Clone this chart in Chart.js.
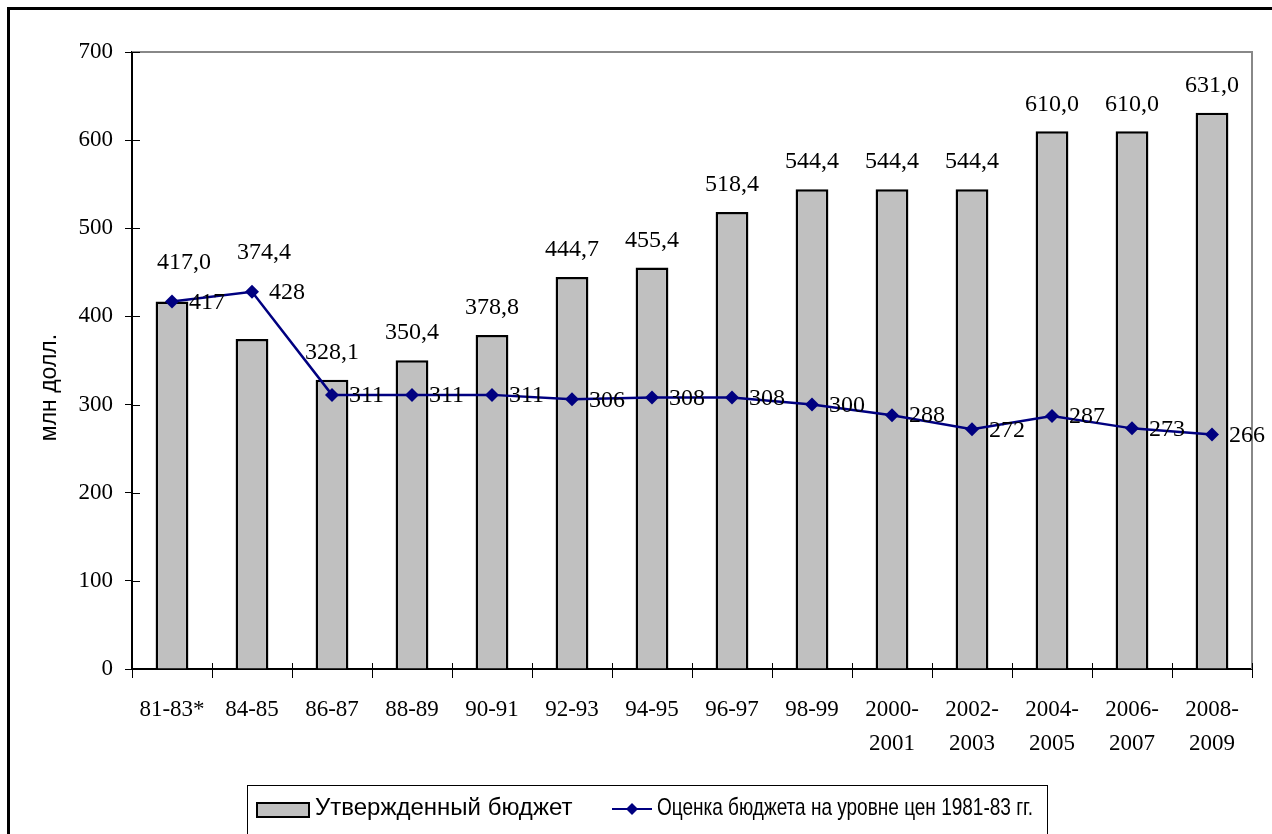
<!DOCTYPE html>
<html>
<head>
<meta charset="utf-8">
<script src="https://cdn.jsdelivr.net/npm/chart.js@4"></script>
<style>
  body { margin: 0; background: #fff; overflow: hidden; }
  canvas { display: block; }
</style>
</head>
<body>
<canvas id="budgetChart" width="1272" height="834"></canvas>
<script>
// categories (two-line labels for the later biennia)
const periods = [
  "81-83*", "84-85", "86-87", "88-89", "90-91", "92-93", "94-95",
  "96-97", "98-99", ["2000-", "2001"], ["2002-", "2003"],
  ["2004-", "2005"], ["2006-", "2007"], ["2008-", "2009"],
];
// approved budget, mln $
const approved = [417.0, 374.4, 328.1, 350.4, 378.8, 444.7, 455.4, 518.4, 544.4, 544.4, 544.4, 610.0, 610.0, 631.0];
// budget at 1981-83 prices
const realBudget = [417, 428, 311, 311, 311, 306, 308, 308, 300, 288, 272, 287, 273, 266];
const yTicks = [0, 100, 200, 300, 400, 500, 600, 700];

const approvedLabel = "Утвержденный бюджет";
const realLabel = "Оценка бюджета на уровне цен 1981-83 гг.";
const yTitle = "млн долл.";

const serif = '"Liberation Serif", "Times New Roman", serif';
const sans = '"Liberation Sans", Arial, sans-serif';
const navy = "#000080";
const barGrey = "#c0c0c0";

function fmt(v) {
  return v.toFixed(1).replace(".", ",");
}

// frame, inner ticks, plot border, value labels, axis title and legend
const decor = {
  id: "decor",
  afterDraw(chart) {
    const ctx = chart.ctx;
    const a = chart.chartArea;
    const xs = chart.scales.x;
    const ys = chart.scales.y;
    ctx.save();

    // plot area border (top / right)
    ctx.strokeStyle = "#888";
    ctx.lineWidth = 2;
    ctx.beginPath();
    ctx.moveTo(a.left, a.top);
    ctx.lineTo(a.right, a.top);
    ctx.lineTo(a.right, a.bottom);
    ctx.stroke();

    // inner halves of the tick marks
    ctx.strokeStyle = "#000";
    ctx.lineWidth = 1;
    ctx.beginPath();
    yTicks.forEach((t) => {
      const py = Math.round(ys.getPixelForValue(t)) + 0.5;
      ctx.moveTo(a.left, py);
      ctx.lineTo(a.left + 8, py);
    });
    for (let i = 0; i <= periods.length; i++) {
      const px = Math.round(xs.getPixelForValue(i - 0.5)) + 0.5;
      ctx.moveTo(px, a.bottom);
      ctx.lineTo(px, a.bottom - 6);
    }
    ctx.stroke();

    // value labels
    ctx.fillStyle = "#000";
    ctx.font = "24px " + serif;
    ctx.textBaseline = "middle";
    ctx.textAlign = "center";
    approved.forEach((v, i) => {
      const px = xs.getPixelForValue(i);
      const barTop = ys.getPixelForValue(v);
      const lineY = ys.getPixelForValue(realBudget[i]);
      if (realBudget[i] >= v - 5) {
        ctx.fillText(fmt(v), px + 12, Math.min(barTop, lineY) - 39);
      } else {
        ctx.fillText(fmt(v), px, barTop - 27);
      }
    });
    ctx.textAlign = "left";
    realBudget.forEach((v, i) => {
      const px = xs.getPixelForValue(i);
      ctx.fillText(String(v), px + 17, ys.getPixelForValue(v) + 1);
    });

    // y axis title
    ctx.save();
    ctx.translate(50, (a.top + a.bottom) / 2 + 27);
    ctx.rotate(-Math.PI / 2);
    ctx.textAlign = "center";
    ctx.font = "23px " + sans;
    ctx.fillText(yTitle, 0, 0);
    ctx.restore();

    // legend
    ctx.lineWidth = 1;
    ctx.strokeStyle = "#000";
    ctx.strokeRect(247.5, 785.5, 800, 70);
    ctx.fillStyle = barGrey;
    ctx.fillRect(256, 802, 54, 16);
    ctx.lineWidth = 2;
    ctx.strokeRect(257, 803, 52, 14);
    ctx.fillStyle = "#000";
    ctx.font = "24px " + sans;
    ctx.textAlign = "left";
    ctx.fillText(approvedLabel, 315, 808);

    ctx.strokeStyle = navy;
    ctx.beginPath();
    ctx.moveTo(612, 809);
    ctx.lineTo(652, 809);
    ctx.stroke();
    ctx.fillStyle = navy;
    ctx.beginPath();
    ctx.moveTo(632, 803);
    ctx.lineTo(638, 809);
    ctx.lineTo(632, 815);
    ctx.lineTo(626, 809);
    ctx.closePath();
    ctx.fill();
    // second entry is set in a condensed face in the original
    ctx.fillStyle = "#000";
    ctx.save();
    ctx.translate(657, 808);
    ctx.scale(376 / ctx.measureText(realLabel).width, 1);
    ctx.fillText(realLabel, 0, 0);
    ctx.restore();

    // outer frame
    ctx.strokeStyle = "#000";
    ctx.lineWidth = 3;
    ctx.strokeRect(8.5, 8.5, 1300, 900);
    ctx.restore();
  },
};

const ctx = document.getElementById("budgetChart").getContext("2d");
const budgetchart = new Chart(ctx, {
  type: "bar",
  data: {
    labels: periods,
    datasets: [
      {
        type: "line",
        label: realLabel,
        data: realBudget,
        borderColor: navy,
        backgroundColor: navy,
        borderWidth: 2.5,
        tension: 0,
        pointStyle: "rectRot",
        pointRadius: 7,
        pointBorderWidth: 0,
        pointBackgroundColor: navy,
        order: 0,
      },
      {
        label: approvedLabel,
        data: approved,
        backgroundColor: barGrey,
        borderColor: "#000",
        borderWidth: 2.5,
        barPercentage: 0.41,
        categoryPercentage: 1,
        order: 1,
      },
    ],
  },
  options: {
    responsive: false,
    animation: false,
    layout: { padding: { top: 52, right: 20, left: 0, bottom: 0 } },
    plugins: {
      legend: { display: false },
      tooltip: { enabled: false },
    },
    scales: {
      x: {
        offset: true,
        grid: {
          offset: true,
          drawOnChartArea: false,
          tickLength: 9,
          color: "#000",
        },
        border: { color: "#000", width: 2 },
        ticks: {
          color: "#000",
          font: { family: serif, size: 23, lineHeight: "34px" },
          padding: 15,
          maxRotation: 0,
          autoSkip: false,
        },
        afterFit(scale) {
          scale.height = 165;
        },
      },
      y: {
        min: 0,
        max: 700,
        grid: {
          drawOnChartArea: false,
          tickLength: 7,
          color: "#000",
        },
        border: { color: "#000", width: 2 },
        ticks: {
          stepSize: 100,
          color: "#000",
          font: { family: serif, size: 23 },
          padding: 12,
        },
        afterFit(scale) {
          scale.width = 132;
        },
      },
    },
  },
  plugins: [decor],
});
</script>
</body>
</html>
